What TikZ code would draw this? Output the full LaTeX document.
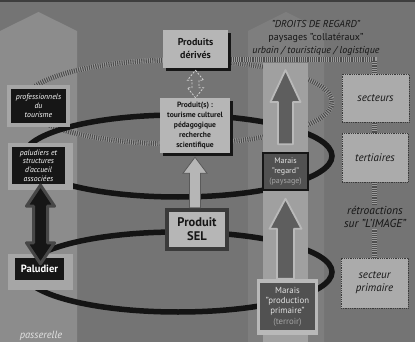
\documentclass[tikz,border=0pt]{standalone}
\usepackage{fontspec}
\setmainfont{PT Sans}
\usetikzlibrary{calc}
\pgfdeclarelayer{under}
\pgfdeclarelayer{coils}
\pgfsetlayers{under,coils,main}

\definecolor{bg}{HTML}{747474}
\definecolor{topedge}{HTML}{3E3E3E}
\definecolor{bandL}{HTML}{8C8C8C}
\definecolor{bandR}{HTML}{7E7E7E}
\definecolor{column}{HTML}{A0A0A0}
\definecolor{boxlight}{HTML}{B6B6B6}
\definecolor{boxright}{HTML}{ABABAB}
\definecolor{framegray}{HTML}{A6A6A6}
\definecolor{ink}{HTML}{161616}
\definecolor{coil}{HTML}{141414}
\definecolor{hatchL}{HTML}{9C9C9C}
\definecolor{hatchD}{HTML}{4E4E4E}
\definecolor{marais}{HTML}{515151}
\definecolor{arrowdark}{HTML}{5E5E5E}
\definecolor{glow}{HTML}{B9B9B9}
\definecolor{paletext}{HTML}{E2E2E2}
\definecolor{dimtext}{HTML}{A4A4A4}
\definecolor{selframe}{HTML}{3A3A3A}
\definecolor{halo}{HTML}{474747}
\definecolor{outline}{HTML}{5A5A5A}
\definecolor{dashline}{HTML}{D0D0D0}

% one coloured line of node text
\newcommand\inked[2]{\textcolor{#1}{#2}}

% vertical block arrow: [style]{tail}{tip}{shaft half width}{head half width}{head length}
\newcommand\blockarrow[6][]{%
  \path[#1] let \p1=(#2), \p2=(#3), \p3=($(#3)!#6!(#2)$) in
    (\x2-#4,\y1) -- (\x2-#4,\y3) -- (\x2-#5,\y3) -- (\x2,\y2)
    -- (\x2+#5,\y3) -- (\x2+#4,\y3) -- (\x2+#4,\y1) -- cycle;}
% vertical double-headed block arrow: [style]{end A}{end B}{shaft half}{head half}{head length}
\newcommand\twinarrow[6][]{%
  \path[#1] let \p1=(#2), \p2=(#3), \p3=($(#2)!#6!(#3)$), \p4=($(#3)!#6!(#2)$) in
    (\x1,\y1) -- (\x1+#5,\y3) -- (\x1+#4,\y3) -- (\x1+#4,\y4) -- (\x1+#5,\y4)
    -- (\x1,\y2) -- (\x1-#5,\y4) -- (\x1-#4,\y4) -- (\x1-#4,\y3) -- (\x1-#5,\y3) -- cycle;}

\begin{document}
\begin{tikzpicture}[x=1pt,y=-1pt,
  coilband/.style={draw=coil, line width=5.5pt},
  hatchband/.style={draw=hatchD, line width=5pt, dash pattern=on 1.1pt off 1.1pt,
    preaction={draw=hatchL, line width=5pt, solid}},
  framebox/.style={fill=framegray, inner sep=0},
  darkbox/.style={fill=ink, text=white, inner sep=0, align=center},
  lightbox/.style={fill=boxlight, text=ink, inner sep=0, align=center},
  shadow/.style={fill=ink, inner sep=0},
  rbox/.style={fill=boxright, draw=selframe, densely dotted, line width=.8pt, text=ink,
    inner sep=0, align=center, font=\itshape\fontsize{11}{13}\selectfont},
  maraisbox/.style={fill=marais, text=paletext, inner sep=0, align=center},
  markarrow/.style={fill=arrowdark, draw=glow, line width=1.8pt, line join=round},
]
\useasboundingbox (0,0) rectangle (415,342);

% ---------- ground and the two columns ----------
\begin{pgfonlayer}{under}
  \fill[bg] (0,0) rectangle (415,342);
  \fill[topedge] (0,0) rectangle (415,2.5);
  \fill[bandL] (0,342) -- (0,31) -- (38.5,12) -- (77,31) -- (77,342) -- cycle;
  \fill[bandR] (248,342) -- (248,31) -- (286,12) -- (324,31) -- (324,342) -- cycle;
\end{pgfonlayer}

% inner column of the right side
\fill[column] (263,63) rectangle (308,342);

% ---------- left column ----------
\node[framebox, minimum width=63, minimum height=42] (proF) at (38.5,106) {};
\node[darkbox, minimum width=55, minimum height=34,
  font=\itshape\fontsize{7.8}{8.8}\selectfont] (proB) at (38.5,106)
  {\inked{white}{professionnels}\\\inked{white}{du}\\\inked{white}{tourisme}};

\node[framebox, minimum width=65, minimum height=47] (palF) at (40.5,166.5) {};
\node[darkbox, minimum width=53, minimum height=37,
  font=\itshape\fontsize{7.8}{8.8}\selectfont] (palB) at (38.5,165.5)
  {\inked{white}{paludiers et}\\\inked{white}{structures}\\\inked{white}{d'accueil}\\\inked{white}{associées}};

\node[framebox, minimum width=65, minimum height=36] (paludF) at (40.5,272) {};
\node[darkbox, minimum width=49, minimum height=22,
  font=\bfseries\fontsize{10.5}{12}\selectfont] (paludB) at (39.5,269) {\inked{white}{Paludier}};

\node[font=\itshape\fontsize{10.5}{12}\selectfont] (pass) at (41,336) {\inked{paletext}{passerelle}};

% ---------- centre ----------
\node[shadow, minimum width=65, minimum height=38] (derS) at (198.5,52) {};
\node[lightbox, minimum width=65, minimum height=38,
  font=\bfseries\fontsize{10}{13}\selectfont] (derB) at (195.5,49)
  {\inked{ink}{Produits}\\\inked{ink}{dérivés}};

\node[shadow, minimum width=70, minimum height=55] (prodS) at (198,128.5) {};
\node[lightbox, minimum width=70, minimum height=55,
  font=\bfseries\fontsize{7.6}{9.8}\selectfont] (prodB) at (195,125.5)
  {\inked{ink}{Produit(s) :}\\\inked{ink}{tourisme culturel}\\\inked{ink}{pédagogique}\\\inked{ink}{recherche}\\\inked{ink}{scientifique}};

\node[fill=selframe, inner sep=0, minimum width=64, minimum height=43] (selF) at (197,229.5) {};
\node[lightbox, minimum width=56, minimum height=35,
  font=\bfseries\fontsize{12.5}{14}\selectfont] (selB) at (197,229.5)
  {\inked{ink}{Produit}\\\inked{ink}{SEL}};

% ---------- right column ----------
\node[maraisbox, draw=ink, line width=1.5pt, minimum width=45, minimum height=37,
  font=\fontsize{8}{9.8}\selectfont] (mrB) at (285.5,171.5)
  {\inked{paletext}{Marais}\\\inked{paletext}{"regard"}\\\inked{dimtext}{(paysage)}};

\node[fill=glow, inner sep=0, minimum width=61, minimum height=56] (mpF) at (287.5,307) {};
\node[maraisbox, minimum width=55, minimum height=47,
  font=\fontsize{8.8}{10.3}\selectfont] (mpB) at (287.5,306.5)
  {\inked{paletext}{Marais}\\\inked{paletext}{"production}\\\inked{paletext}{primaire"}\\\inked{dimtext}{(terroir)}};

\node[align=center, font=\fontsize{10}{13}\selectfont] (droits) at (316,38)
  {\inked{ink}{\textit{"DROITS DE REGARD"}}\\\inked{ink}{paysages "collatéraux"}\\\inked{ink}{\textit{urbain / touristique / logistique}}};

% ---------- sector boxes ----------
\node[rbox, minimum width=67, minimum height=48] (secA) at (375.5,98) {\inked{ink}{secteurs}};
\node[rbox, minimum width=66, minimum height=49] (secB) at (375,157.5) {\inked{ink}{tertiaires}};
\node[fill=bg, inner sep=1pt, align=center,
  font=\itshape\fontsize{11.5}{13.5}\selectfont] (retro) at (375,217)
  {\inked{ink}{rétroactions}\\\inked{ink}{sur "L'IMAGE"}};
\node[rbox, minimum width=67, minimum height=50] (secC) at (374.5,283)
  {\inked{ink}{secteur}\\\inked{ink}{primaire}};

% ---------- coils and the feedback line ----------
\coordinate (ringtop) at (178,60);
\coordinate (fbstart) at (derB.east |- ringtop);
\begin{pgfonlayer}{coils}
  \draw[hatchband] (178,102) ellipse [x radius=154pt, y radius=42pt];
  \draw[coilband] (178,156) ellipse [x radius=154pt, y radius=41pt];
  \draw[coilband] (178,272) ellipse [x radius=154pt, y radius=40pt];
  \draw[hatchband] (fbstart) -- (fbstart -| secC.north) -- (secC.north);
\end{pgfonlayer}

% ---------- block arrows ----------
\coordinate (lookup) at (285.5,70);
\blockarrow[markarrow]{[yshift=8pt]mrB.north}{lookup}{7.5pt}{15pt}{32pt}
\blockarrow[markarrow]{mpF.north}{[yshift=-8pt]mrB.south}{8.5pt}{16pt}{30pt}
\blockarrow[fill=boxlight, draw=outline, line width=.8pt]{selF.north}{[yshift=-4pt]prodB.south}{5.5pt}{12pt}{16pt}
\twinarrow[draw=dashline, line width=.8pt, dash pattern=on 2pt off 1.5pt]{[yshift=-2pt]derB.south}{prodB.north}{3.5pt}{8pt}{10pt}
\twinarrow[fill=ink, draw=halo, line width=3pt, line join=round]{[yshift=5pt]palF.south}{[yshift=-10pt]paludF.north}{7pt}{14pt}{21pt}
\end{tikzpicture}
\end{document}
